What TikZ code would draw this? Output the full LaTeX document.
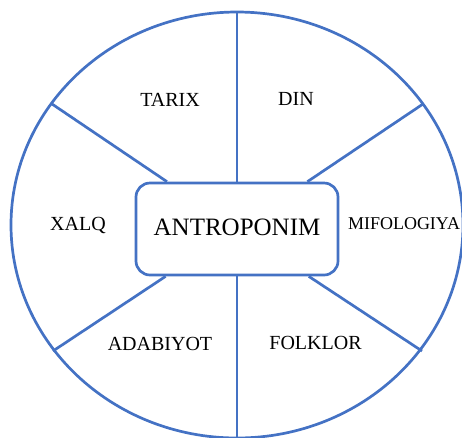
\documentclass[tikz,border=0pt]{standalone}
\usepackage{fontspec}
\setmainfont{Liberation Serif}
\definecolor{lineblue}{RGB}{68,114,196}
\begin{document}
\begin{tikzpicture}[x=1pt,y=-1pt,
  blueline/.style={draw=lineblue,line width=2.7pt},
  lbl/.style={anchor=base,inner sep=0pt,font=\fontsize{20}{24}\selectfont},
  centerbox/.style={blueline,rounded corners=14pt,minimum width=202pt,minimum height=92pt,inner sep=0pt,font=\fontsize{25}{29}\selectfont}]
\useasboundingbox (0,0) rectangle (462,437);
\draw[blueline] (237,225) ellipse [x radius=226, y radius=213];
\coordinate (etop) at (237,12);
\coordinate (ebot) at (237,438);
\coordinate (eul) at (52,104);
\coordinate (eur) at (423,104);
\coordinate (ell) at (53,351);
\coordinate (elr) at (422,351);
\node[centerbox] (box) at (237,229) {\raisebox{4pt}{ANTROPONIM}};
\draw[blueline] (etop) -- (box.north);
\draw[blueline] (ebot) -- (box.south);
\draw[blueline] (eul) -- (box);
\draw[blueline] (eur) -- (box);
\draw[blueline] (ell) -- (box);
\draw[blueline] (elr) -- (box);
\node[lbl] (tarix) at (170,106) {TARIX};
\node[lbl] (din) at (296,105.5) {DIN};
\node[lbl] (xalq) at (78,230.5) {XALQ};
\node[lbl,font=\fontsize{18}{22}\selectfont] (mif) at (404,229) {MIFOLOGIYA};
\node[lbl] (adab) at (160,350) {ADABIYOT};
\node[lbl] (folk) at (315.5,349) {FOLKLOR};
\end{tikzpicture}
\end{document}
